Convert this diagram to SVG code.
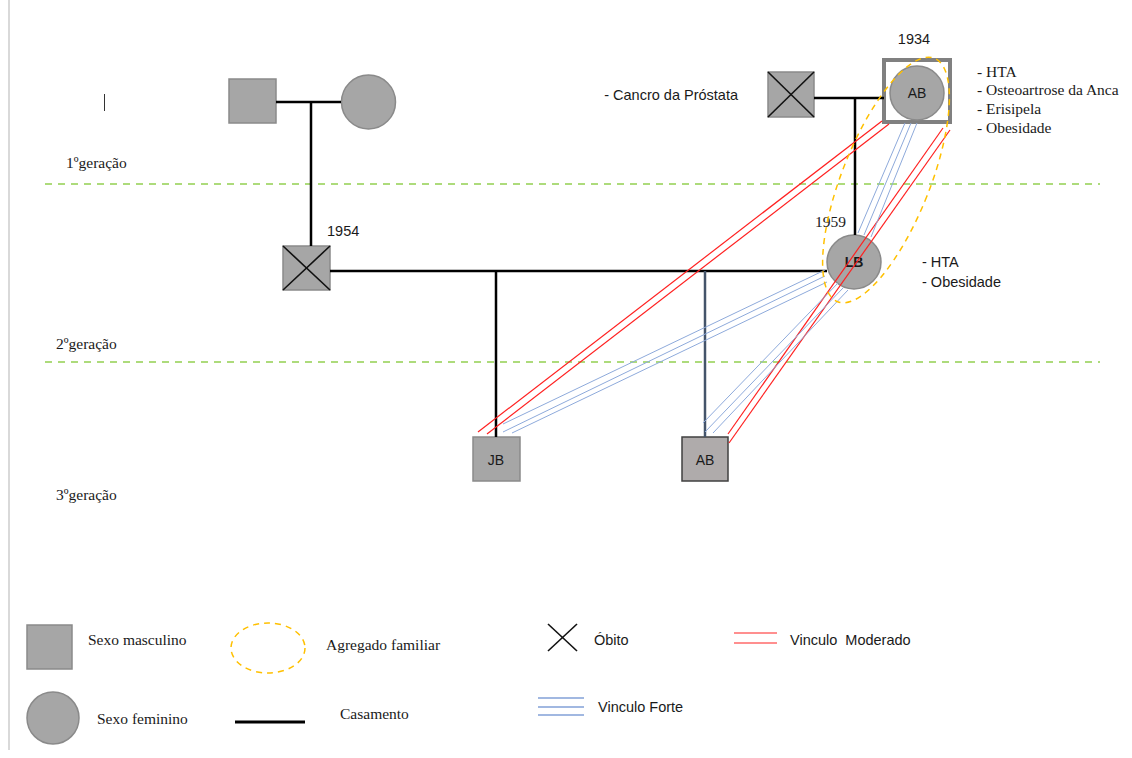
<svg xmlns="http://www.w3.org/2000/svg" width="1132" height="758" viewBox="0 0 1132 758">
<style>
.serif{font-family:"Liberation Serif","Times New Roman",serif;font-size:15.5px;fill:#1a1a1a}
.sans{font-family:"Liberation Sans",Arial,sans-serif;font-size:14.5px;fill:#1a1a1a}
.lbl{font-family:"Liberation Sans",Arial,sans-serif;font-size:14px;fill:#1a1a1a;text-anchor:middle}
.node{fill:#a6a6a6;stroke:#8a8a8a;stroke-width:1.5}
.x{stroke:#111;stroke-width:1.6}
.mar{stroke:#000;stroke-width:2.5;fill:none}
.gen{stroke:#92d050;stroke-width:1.3;stroke-dasharray:7 6}
.red{stroke:#ff2020;stroke-width:1.2;fill:none}
.blue{stroke:#8eaadb;stroke-width:1;fill:none}
.fam{fill:none;stroke:#ffc000;stroke-width:1.5;stroke-dasharray:6 5}
</style>
<rect width="1132" height="758" fill="#fff"/>
<line x1="9" y1="0" x2="9" y2="750" stroke="#d9d9d9" stroke-width="2"/>
<line x1="104.5" y1="94" x2="104.5" y2="111" stroke="#333" stroke-width="1"/>

<g id="generations">
<line class="gen" x1="45" y1="184" x2="1100" y2="184"/>
<line class="gen" x1="45" y1="362" x2="1100" y2="362"/>
<text class="serif" x="66" y="168">1ºgeração</text>
<text class="serif" x="56" y="349">2ºgeração</text>
<text class="serif" x="56" y="500">3ºgeração</text>
</g>

<g id="grandfather"><rect class="node" x="229" y="79" width="47" height="44"/></g>
<g id="grandmother"><circle class="node" cx="368.5" cy="102" r="27"/></g>
<g id="father1954">
<rect class="node" x="283" y="246" width="47" height="44"/>
<line class="x" x1="283" y1="246" x2="330" y2="290"/><line class="x" x1="330" y1="246" x2="283" y2="290"/>
<text class="sans" x="327" y="236">1954</text>
</g>
<g id="maternal-grandfather">
<rect class="node" x="768" y="72" width="46" height="45"/>
<line class="x" x1="768" y1="72" x2="814" y2="117"/><line class="x" x1="814" y1="72" x2="768" y2="117"/>
<text class="sans" x="738" y="100" text-anchor="end">- Cancro da Próstata</text>
</g>
<g id="AB1934">
<rect x="884" y="60" width="66" height="62" fill="#fff" stroke="#808080" stroke-width="4"/>
<circle class="node" cx="917" cy="93" r="27"/>
<text class="lbl" x="917" y="98">AB</text>
<text class="sans" x="914" y="44" text-anchor="middle">1934</text>
<text class="serif" x="977" y="77" font-size="16">- HTA</text>
<text class="serif" x="977" y="95" font-size="16">- Osteoartrose da Anca</text>
<text class="serif" x="977" y="114" font-size="16">- Erisipela</text>
<text class="serif" x="977" y="133" font-size="16">- Obesidade</text>
</g>
<g id="LB1959">
<circle class="node" cx="854" cy="262" r="27"/>
<text class="lbl" x="854" y="267" font-weight="bold">LB</text>
<text class="serif" x="815" y="227">1959</text>
<text class="sans" x="922" y="267">- HTA</text>
<text class="sans" x="922" y="287">- Obesidade</text>
</g>
<g id="JB">
<rect class="node" x="473" y="437" width="47" height="44"/>
<text class="lbl" x="496" y="465">JB</text>
</g>
<g id="AB3">
<rect x="682" y="437" width="46" height="44" fill="#afabab" stroke="#404040" stroke-width="1.5"/>
<text class="lbl" x="705" y="465">AB</text>
</g>

<g id="connectors">
<path class="mar" d="M276 102H341M311 102V246"/>
<path class="mar" d="M814 98H884M855 98V235"/>
<path class="mar" d="M330 271H827M496 271V437"/>
<line x1="705" y1="271" x2="705" y2="437" stroke="#44546a" stroke-width="2.5"/>
<line class="red" x1="882" y1="121" x2="478" y2="432"/>
<line class="red" x1="889" y1="124" x2="487" y2="434"/>
<line class="red" x1="943" y1="128" x2="728" y2="434"/>
<line class="red" x1="950" y1="130" x2="729" y2="443"/>
<line class="blue" x1="905" y1="123" x2="858" y2="233"/>
<line class="blue" x1="911" y1="123" x2="864" y2="235"/>
<line class="blue" x1="917" y1="123" x2="871" y2="237"/>
<line class="blue" x1="825" y1="270" x2="503" y2="424"/>
<line class="blue" x1="825" y1="276" x2="503" y2="432"/>
<line class="blue" x1="827" y1="282" x2="512" y2="433"/>
<line class="blue" x1="838" y1="283" x2="703" y2="423"/>
<line class="blue" x1="843" y1="288" x2="705" y2="432"/>
<line class="blue" x1="848" y1="290" x2="713" y2="433"/>
<ellipse class="fam" cx="886" cy="180" rx="44" ry="131" transform="rotate(21.7 886 180)"/>
</g>

<g id="legend">
<rect class="node" x="27" y="625" width="45" height="44"/>
<text class="serif" x="88" y="645" font-size="15">Sexo masculino</text>
<circle class="node" cx="53" cy="718" r="26"/>
<text class="serif" x="97" y="724" font-size="15">Sexo feminino</text>
<ellipse class="fam" cx="268" cy="648" rx="37" ry="25"/>
<text class="serif" x="326" y="650" font-size="15">Agregado familiar</text>
<line x1="235" y1="722" x2="305" y2="722" stroke="#000" stroke-width="3"/>
<text class="serif" x="340" y="719" font-size="15">Casamento</text>
<line class="x" x1="548" y1="624" x2="577" y2="651"/><line class="x" x1="577" y1="624" x2="548" y2="651"/>
<text class="sans" x="594" y="645">Óbito</text>
<line class="red" x1="734" y1="633" x2="777" y2="633"/>
<line class="red" x1="734" y1="643" x2="777" y2="643"/>
<text class="sans" x="790" y="645" xml:space="preserve">Vinculo  Moderado</text>
<line x1="538" y1="698" x2="584" y2="698" stroke="#4472c4" stroke-width="1.2"/>
<line x1="538" y1="707" x2="584" y2="707" stroke="#4472c4" stroke-width="1.2"/>
<line x1="538" y1="715" x2="584" y2="715" stroke="#4472c4" stroke-width="1.2"/>
<text class="sans" x="598" y="712">Vinculo Forte</text>
</g>
</svg>
